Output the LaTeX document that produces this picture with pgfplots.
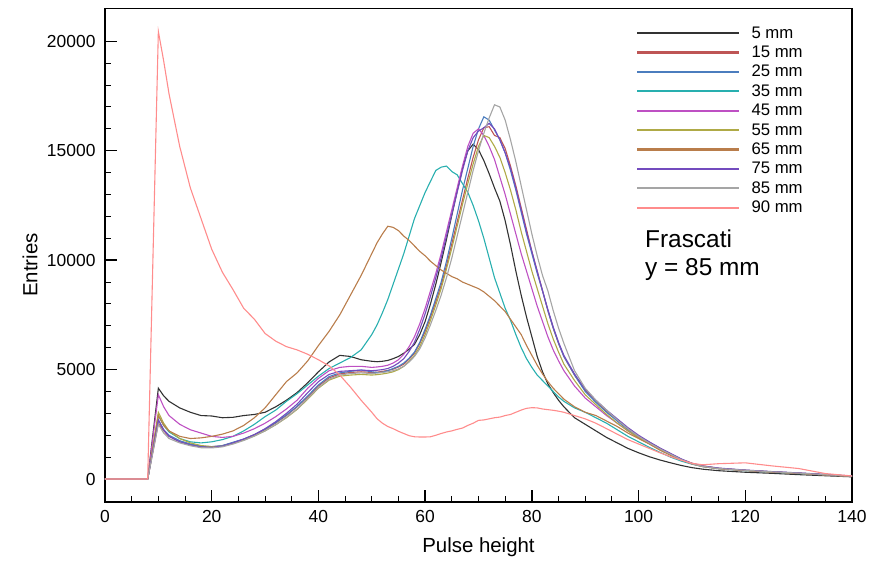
\documentclass[border=0pt]{standalone}
\usepackage{fontspec}
\setmainfont{Liberation Sans}
\usepackage{pgfplots}
\pgfplotsset{compat=1.18}
\usepackage{pgfplotstable}
\usetikzlibrary{calc}
\definecolor{c5}{RGB}{50,50,50}
\definecolor{c15}{RGB}{190,85,85}
\definecolor{c25}{RGB}{75,125,190}
\definecolor{c35}{RGB}{40,175,175}
\definecolor{c45}{RGB}{190,80,195}
\definecolor{c55}{RGB}{175,170,70}
\definecolor{c65}{RGB}{185,125,75}
\definecolor{c75}{RGB}{115,75,190}
\definecolor{c85}{RGB}{165,165,165}
\definecolor{c90}{RGB}{255,140,140}
\pgfplotstableread{
x a5 a15 a25 a35 a45 a55 a65 a75 a85 a90
0 0 0 0 0 0 0 0 0 0 0
8 0 0 0 0 0 0 0 0 0 0
10 4150 2550 2700 2900 3850 3050 2900 2700 2500 20450
11 3800 2200 2250 2450 3300 2550 2450 2250 2100 19100
12 3550 1950 2000 2150 2900 2200 2200 1950 1850 17600
14 3250 1700 1750 1850 2500 1850 1950 1700 1650 15200
16 3050 1580 1600 1700 2250 1650 1850 1550 1520 13300
18 2900 1480 1500 1650 2100 1530 1880 1470 1430 11900
20 2880 1460 1480 1700 1950 1480 1950 1450 1420 10500
22 2800 1520 1530 1800 1900 1500 2050 1500 1470 9450
24 2820 1660 1680 1950 1950 1620 2200 1650 1600 8650
26 2900 1820 1830 2200 2100 1780 2450 1820 1760 7800
28 2950 2020 2030 2500 2300 1970 2800 2030 1960 7300
30 3050 2260 2280 2850 2550 2200 3250 2300 2200 6650
32 3300 2560 2580 3150 2850 2480 3850 2620 2480 6300
34 3600 2900 2930 3550 3200 2800 4450 3000 2820 6050
36 3950 3300 3320 3900 3600 3180 4850 3420 3200 5900
38 4400 3750 3800 4300 4150 3650 5400 3950 3680 5700
40 4900 4250 4300 4700 4600 4150 6100 4450 4180 5450
42 5350 4620 4680 5050 4950 4520 6750 4780 4560 5170
44 5650 4800 4850 5300 5100 4700 7500 4920 4750 4750
46 5600 4870 4920 5550 5150 4750 8400 4950 4820 4200
48 5450 4900 4980 5900 5150 4780 9300 4980 4850 3600
50 5380 4870 4900 6600 5100 4750 10300 4950 4820 3050
51 5360 4880 4870 7050 5120 4770 10800 4970 4840 2750
52 5380 4920 4880 7600 5150 4800 11200 5000 4870 2550
53 5420 4960 4950 8200 5200 4840 11550 5050 4900 2400
54 5500 5020 5050 8900 5300 4900 11500 5150 4950 2300
55 5600 5120 5150 9600 5450 5000 11350 5300 5030 2180
56 5750 5250 5300 10300 5700 5150 11100 5500 5150 2080
57 5930 5480 5520 11100 6050 5380 10900 5830 5350 1980
58 6150 5750 5800 11900 6500 5650 10650 6250 5600 1930
59 6600 6200 6250 12500 7100 6050 10400 6850 5950 1920
60 7200 6750 6850 13100 7800 6600 10200 7550 6450 1920
61 8000 7400 7500 13600 8600 7250 9950 8350 7050 1930
62 8900 8100 8250 14100 9400 7950 9750 9200 7700 2000
63 9900 8850 9000 14250 10300 8700 9550 10100 8400 2080
64 10950 9750 9950 14300 11300 9600 9400 11100 9200 2150
65 12050 10750 11000 14050 12300 10550 9250 12100 10100 2200
66 13150 11750 12100 13900 13300 11550 9150 13100 11100 2270
67 14200 12750 13200 13500 14300 12550 9000 14100 12100 2330
68 15000 13750 14200 13100 15200 13500 8900 15000 13100 2450
69 15300 14700 15200 12500 15800 14400 8800 15600 14100 2550
70 15050 15500 16000 11800 16000 15200 8700 15900 15000 2680
71 14550 16050 16550 11000 15700 15700 8550 16050 15800 2700
72 13950 16100 16400 10100 15200 15600 8350 16250 16500 2750
73 13300 15700 15950 9200 14600 15200 8150 16000 17100 2800
74 12700 15600 15500 8500 13800 14700 7900 15500 17000 2830
75 11800 15100 14900 7800 13000 14000 7650 14900 16400 2900
76 10700 14300 14100 7250 12100 13200 7300 14200 15500 2950
77 9500 13400 13200 6600 11200 12300 6950 13300 14500 3050
78 8400 12400 12200 6000 10300 11300 6600 12300 13400 3150
79 7400 11400 11200 5500 9500 10400 6100 11300 12300 3230
80 6500 10400 10300 5100 8700 9500 5650 10400 11200 3260
81 5600 9500 9400 4750 7900 8700 5200 9500 10200 3250
82 4900 8600 8600 4500 7200 7900 4800 8600 9300 3200
83 4350 7700 7700 4250 6500 7100 4450 7750 8600 3170
84 3950 6900 6900 4000 5900 6400 4150 6950 7700 3140
85 3600 6200 6200 3750 5400 5800 3900 6250 6900 3100
86 3300 5600 5600 3550 4950 5250 3650 5650 6200 3050
88 2800 4750 4750 3250 4250 4500 3300 4800 4950 2900
90 2500 4050 4000 3050 3700 3850 3050 4100 4150 2750
92 2200 3550 3500 2800 3300 3400 2900 3600 3600 2550
94 1900 3100 3050 2550 2900 2950 2650 3150 3150 2300
96 1650 2700 2650 2250 2550 2550 2400 2750 2700 2050
98 1400 2300 2250 1950 2200 2200 2100 2350 2300 1800
100 1200 1950 1920 1700 1880 1880 1850 2000 1950 1600
102 1020 1680 1650 1450 1620 1620 1600 1700 1650 1400
104 870 1400 1380 1220 1350 1360 1320 1420 1380 1200
106 740 1150 1130 1000 1120 1120 1080 1170 1130 1020
108 620 900 890 820 880 880 880 920 890 860
110 520 710 700 680 690 690 720 720 700 720
112 450 590 580 570 570 570 600 600 580 650
115 380 490 480 470 470 470 490 500 480 700
120 310 400 400 380 390 390 390 410 400 740
125 260 330 330 310 320 320 320 340 330 600
130 200 270 270 250 260 260 260 280 270 480
135 150 200 200 190 190 190 190 210 200 250
140 100 130 130 120 120 120 120 140 130 140
}\data
\begin{document}
\begin{tikzpicture}
\begin{axis}[
  scale only axis, width=747bp, height=493.5bp,
  xmin=0, xmax=140, ymin=-1050, ymax=21500,
  xtick={0,20,...,140}, ytick={0,5000,...,20000},
  minor x tick num=3, minor y tick num=4,
  tick align=inside, xtick pos=bottom, ytick pos=left,
  major tick length=12bp, minor tick length=6bp,
  axis line style={line width=1.6bp},
  major tick style={line width=1.4bp, black},
  minor tick style={line width=1.0bp, black},
  scaled ticks=false,
  /pgf/number format/1000 sep={},
  /pgf/number format/assume math mode=true,
  ticklabel style={font=\fontsize{17.5}{20}\selectfont},
  yticklabel style={xshift=-6bp},
  xticklabel style={yshift=-5bp},
  xlabel={Pulse height}, ylabel={Entries},
  label style={font=\fontsize{20.5}{24}\selectfont},
  xlabel style={at={(axis description cs:0.5,-0.0912)}, anchor=center},
  ylabel style={at={(axis description cs:-0.1004,0.48)}, anchor=center},
  legend cell align=left,
  legend style={at={(axis description cs:0.711,0.9676)}, anchor=north west,
    draw=none, fill=none, inner sep=0pt, row sep=2.3bp,
    font=\fontsize{16.8}{19}\selectfont,
    nodes={inner sep=2bp, text depth=0.15em},
    /tikz/every odd column/.append style={column sep=9bp}},
  legend image code/.code={\draw[#1, line width=2.2bp] (0bp,0bp) -- (102bp,0bp);},
  legend image post style={line width=2.2bp},
  every axis plot/.append style={line width=1.1bp},
]
\addplot[c5] table[x=x,y=a5] {\data}; \addlegendentry{5 mm}
\addplot[c15] table[x=x,y=a15] {\data}; \addlegendentry{15 mm}
\addplot[c25] table[x=x,y=a25] {\data}; \addlegendentry{25 mm}
\addplot[c35] table[x=x,y=a35] {\data}; \addlegendentry{35 mm}
\addplot[c45] table[x=x,y=a45] {\data}; \addlegendentry{45 mm}
\addplot[c55] table[x=x,y=a55] {\data}; \addlegendentry{55 mm}
\addplot[c65] table[x=x,y=a65] {\data}; \addlegendentry{65 mm}
\addplot[c75] table[x=x,y=a75] {\data}; \addlegendentry{75 mm}
\addplot[c85] table[x=x,y=a85] {\data}; \addlegendentry{85 mm}
\addplot[c90] table[x=x,y=a90] {\data}; \addlegendentry{90 mm}
\node[anchor=base west, inner sep=0pt, font=\fontsize{24.5}{28}\selectfont] at (axis cs:101.2,10576) {Frascati};
\node[anchor=base west, inner sep=0pt, font=\fontsize{24.5}{28}\selectfont] at (axis cs:101.2,9282) {y = 85 mm};
\end{axis}
\pgfresetboundingbox
\path ($(current axis.south west)+(-105bp,-60bp)$) rectangle ($(current axis.north east)+(25bp,8.5bp)$);
\end{tikzpicture}
\end{document}
